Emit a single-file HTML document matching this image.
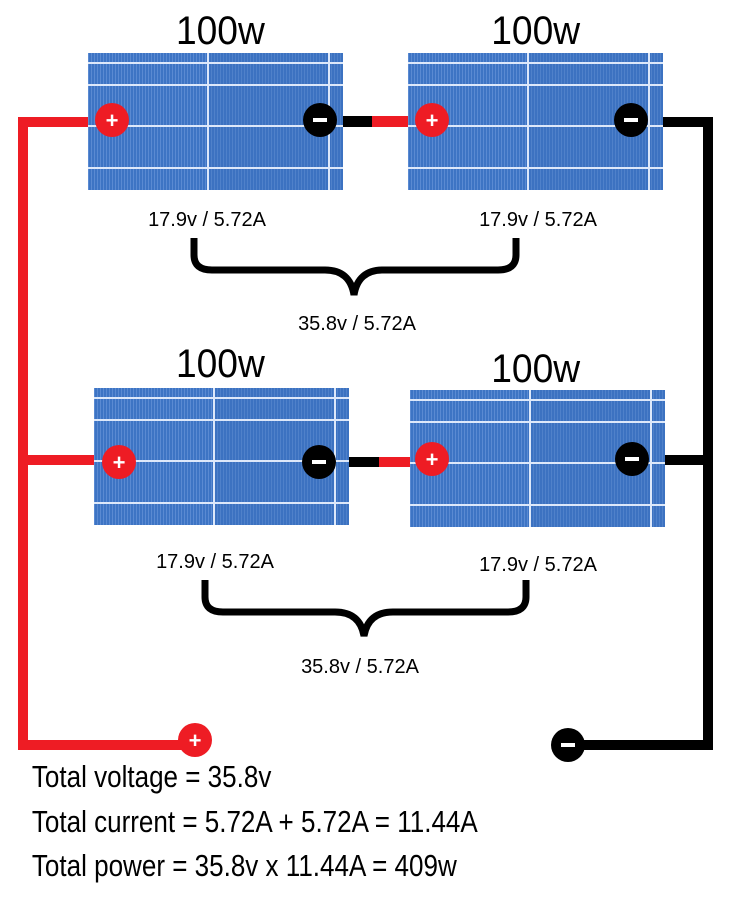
<!DOCTYPE html>
<html><head><meta charset="utf-8"><style>
body{margin:0;background:#fff;width:735px;height:919px;overflow:hidden}
svg{display:block}
text{font-family:"Liberation Sans",sans-serif}
</style></head><body>
<svg width="735" height="919" viewBox="0 0 735 919" xmlns="http://www.w3.org/2000/svg">
<defs>
<pattern id="stripes" width="3" height="10" patternUnits="userSpaceOnUse">
<rect width="3" height="10" fill="#3d74c4"/>
<rect width="1" height="10" fill="#5a8ad2"/>
</pattern>
<g id="panel">
<rect x="0" y="0" width="255" height="137" fill="url(#stripes)"/>
<rect x="120" y="0" width="135" height="137" fill="#3b6fbd" opacity="0.35"/>
<g fill="#dde8fa">
<rect x="0" y="9" width="255" height="2"/>
<rect x="0" y="31" width="255" height="2"/>
<rect x="0" y="72" width="255" height="2"/>
<rect x="0" y="114" width="255" height="2"/>
<rect x="119" y="0" width="2" height="137"/>
<rect x="240" y="0" width="2" height="137"/>
</g>
</g>
</defs>
<g fill="#ee1c24">
<rect x="18" y="117" width="10" height="633"/>
<rect x="18" y="117" width="78" height="10"/>
<rect x="18" y="455" width="82" height="10"/>
<rect x="18" y="740" width="175" height="10"/>
<rect x="370" y="116" width="38" height="11"/>
<rect x="378" y="457" width="34" height="10"/>
</g>
<g fill="#000">
<rect x="703" y="117" width="10" height="633"/>
<rect x="660" y="117" width="53" height="10"/>
<rect x="662" y="455" width="51" height="10"/>
<rect x="568" y="740" width="145" height="10"/>
<rect x="338" y="116" width="34" height="11"/>
<rect x="345" y="457" width="34" height="10"/>
</g>
<use href="#panel" x="88" y="53"/>
<use href="#panel" x="408" y="53"/>
<use href="#panel" x="94" y="388"/>
<use href="#panel" x="410" y="390"/>
<g font-weight="bold" font-size="22" text-anchor="middle" fill="#fff">
<circle cx="112" cy="120" r="17" fill="#ee1c24"/><text x="112" y="128">+</text>
<circle cx="320" cy="120" r="17" fill="#000"/><rect x="313" y="118" width="14" height="4" fill="#fff"/>
<circle cx="432" cy="120" r="17" fill="#ee1c24"/><text x="432" y="128">+</text>
<circle cx="631" cy="120" r="17" fill="#000"/><rect x="624" y="118" width="14" height="4" fill="#fff"/>
<circle cx="119" cy="462" r="17" fill="#ee1c24"/><text x="119" y="470">+</text>
<circle cx="319" cy="462" r="17" fill="#000"/><rect x="312" y="460" width="14" height="4" fill="#fff"/>
<circle cx="432" cy="459" r="17" fill="#ee1c24"/><text x="432" y="467">+</text>
<circle cx="632" cy="459" r="17" fill="#000"/><rect x="625" y="457" width="14" height="4" fill="#fff"/>
<circle cx="195" cy="740" r="17" fill="#ee1c24"/><text x="195" y="748">+</text>
<circle cx="568" cy="745" r="17" fill="#000"/><rect x="561" y="743" width="14" height="4" fill="#fff"/>
</g>
<g font-size="40" text-anchor="middle" fill="#000" transform="scale(0.93 1)">
<text x="237" y="44">100w</text>
<text x="576" y="44">100w</text>
<text x="237" y="377">100w</text>
<text x="576" y="382">100w</text>
</g>
<g font-size="20" text-anchor="middle" fill="#000">
<text x="207" y="226">17.9v / 5.72A</text>
<text x="538" y="226">17.9v / 5.72A</text>
<text x="357" y="330">35.8v / 5.72A</text>
<text x="215" y="568">17.9v / 5.72A</text>
<text x="538" y="571">17.9v / 5.72A</text>
<text x="360" y="673">35.8v / 5.72A</text>
</g>
<g fill="none" stroke="#000" stroke-width="7">
<path d="M194 238 V255 Q194 270 212 270 H325 Q350 270 354 295 Q358 270 383 270 H498 Q516 270 516 255 V238"/>
<path d="M205 580 V597 Q205 612 223 612 H335 Q360 612 364 636 Q368 612 393 612 H508 Q526 612 526 597 V580"/>
</g>
<g font-size="31" fill="#000" transform="scale(0.84 1)">
<text x="38" y="787">Total voltage = 35.8v</text>
<text x="38" y="832">Total current = 5.72A + 5.72A = 11.44A</text>
<text x="38" y="876">Total power = 35.8v x 11.44A = 409w</text>
</g>
</svg>
</body></html>
